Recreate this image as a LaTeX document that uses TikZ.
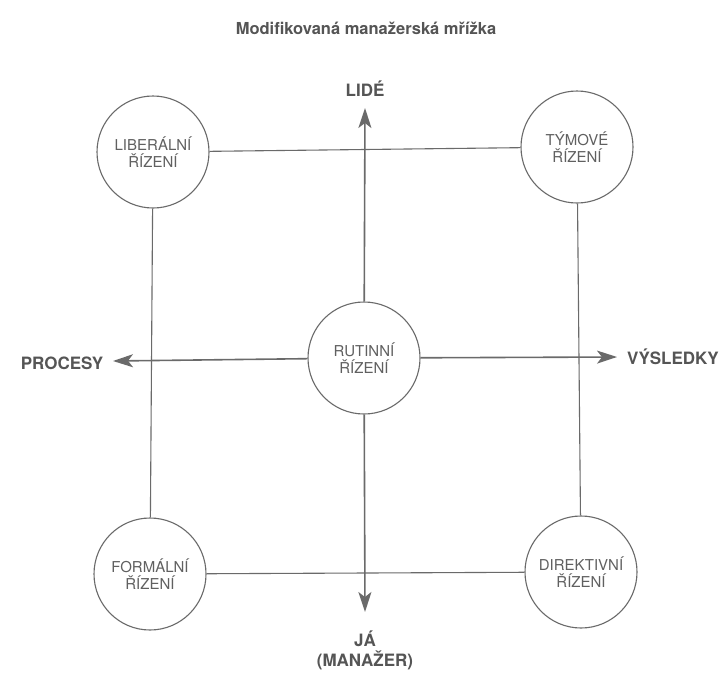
\documentclass[tikz,border=0pt]{standalone}
\usepackage{fontspec}
\setmainfont{TeX Gyre Heros}
\usetikzlibrary{arrows.meta}
\definecolor{ink}{HTML}{555555}
\definecolor{inklight}{HTML}{606060}
\definecolor{linec}{HTML}{6A6A6A}
\begin{document}
\begin{tikzpicture}[x=1pt,y=-1pt,
  circ/.style={circle, draw=linec, line width=1.1pt, minimum size=112pt, inner sep=0pt, align=center, font=\fontsize{15}{16.5}\selectfont, text=inklight},
  axlabel/.style={font=\bfseries\fontsize{17}{20}\selectfont, text=ink, inner sep=0pt, align=center},
  axisarrow/.style={draw=linec, line width=1.6pt, -{Stealth[length=20pt,width=13pt,inset=5pt]}},
  edgeline/.style={draw=linec, line width=1.1pt}]
\fill[white] (0,0) rectangle (723,673);
\useasboundingbox (0,0) rectangle (723,673);
\node[font=\bfseries\fontsize{16.5}{19}\selectfont, text=ink] (title) at (366,28) {Modifikovaná manažerská mřížka};
\node[circ] (lib) at (153,152) {LIBERÁLNÍ\\ŘÍZENÍ};
\node[circ] (tym) at (577,147) {TÝMOVÉ\\ŘÍZENÍ};
\node[circ] (for) at (150,574) {FORMÁLNÍ\\ŘÍZENÍ};
\node[circ] (dir) at (581,572) {DIREKTIVNÍ\\ŘÍZENÍ};
\node[circ] (rut) at (364,358) {RUTINNÍ\\ŘÍZENÍ};
\draw[edgeline] (lib) -- (tym);
\draw[edgeline] (lib) -- (for);
\draw[edgeline] (tym) -- (dir);
\draw[edgeline] (for) -- (dir);
\node[axlabel] (lide) at (365,89) {LIDÉ};
\node[axlabel] (proc) at (62,363) {PROCESY};
\node[axlabel, anchor=west] (vys) at (627,357) {VÝSLEDKY};
\node[axlabel] (ja) at (365,650) {JÁ\\(MANAŽER)};
\coordinate (tipn) at (365,108);
\coordinate (tips) at (365,612);
\coordinate (tipw) at (113,361);
\coordinate (tipe) at (617,357);
\draw[axisarrow] (rut) -- (tipn);
\draw[axisarrow] (rut) -- (tips);
\draw[axisarrow] (rut) -- (tipw);
\draw[axisarrow] (rut) -- (tipe);
\end{tikzpicture}
\end{document}
